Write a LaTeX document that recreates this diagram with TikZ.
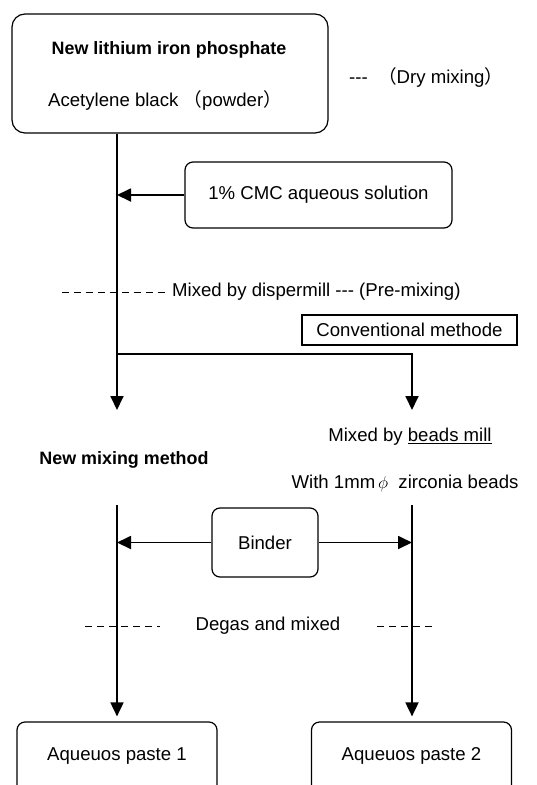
\documentclass[tikz,border=0pt]{standalone}
\usepackage{fontspec}
\setmainfont{Liberation Sans}
\newfontfamily\cjk{Noto Sans CJK JP}
\usetikzlibrary{arrows.meta,positioning}
\newcommand{\lp}{{\cjk （}}
\newcommand{\rp}{{\cjk ）}}
\newcommand{\tdash}{{-}{-}{-}}
\begin{document}
\begin{tikzpicture}[x=1pt,y=-1pt,>={Triangle[length=14pt,width=13pt]},
		flow/.style={line width=1.8pt},
		rbox/.style={draw,line width=1.2pt,rounded corners=8pt,inner sep=0pt},
		sbox/.style={draw,line width=1.8pt,inner sep=0pt},
		dsh/.style={line width=0.9pt,dash pattern=on 7pt off 5pt},
		txt/.style={font=\fontsize{18.6}{22}\selectfont,inner sep=0pt},
		btxt/.style={font=\fontsize{17.9}{22}\selectfont\bfseries,inner sep=0pt}]
	\useasboundingbox (0,0) rectangle (537,785);
	\clip (0,0) rectangle (537,785);
	% raw materials
	\node[rbox,rounded corners=13pt,minimum width=316pt,minimum height=119pt] (raw) at (170,73.5) {};
	\node[btxt] (lfp) at (169,50) {New lithium iron phosphate};
	\node[txt] (ab) at (165,100) {Acetylene black \lp powder\rp};
	\node[txt,anchor=west] (dry) at (349,77) {\tdash\ \ \lp Dry mixing\rp};
	\node[rbox,minimum width=267pt,minimum height=66pt] (cmc) at (318.5,195) {};
	\node[txt] (cmct) at (cmc) {1\% CMC aqueous solution};
	\coordinate (split) at (117,354);
	\coordinate (newend) at (117,410);
	\coordinate (convend) at (412,410);
	\draw[flow,->] (raw.south -| split) -- (newend);
	\draw[flow,->] (cmc.west) -- (cmc.west -| split);
	% pre-mixing
	\node[txt,anchor=west] (disp) at (172,292) {Mixed by dispermill \tdash{} (Pre-mixing)};
	\coordinate (dispa) at (62,292);
	\draw[dsh] (dispa) -- ([xshift=-6pt]disp.west);
	\node[sbox,minimum width=215pt,minimum height=30pt] (conv) at (409.5,330) {};
	\node[txt] (convt) at (conv) {Conventional methode};
	\draw[flow,->] (split) -| (convend);
	% two routes
	\node[txt] (beads) at (410,437) {Mixed by \underline{beads mill}};
	\node[btxt] (newm) at (124,460) {New mixing method};
	\node[txt] (zirc) at (405,483) {With 1mm$\,\phi$\ \ zirconia beads};
	\node[rbox,minimum width=106pt,minimum height=69pt] (bind) at (265,542.5) {};
	\node[txt] (bindt) at (bind) {Binder};
	\node[rbox,minimum width=200pt,minimum height=80pt] (p1) at (117,762) {};
	\node[rbox,minimum width=200pt,minimum height=80pt] (p2) at (411.5,762) {};
	\node[txt] (p1t) at (117,756) {Aqueuos paste 1};
	\node[txt] (p2t) at (411.5,756) {Aqueuos paste 2};
	\coordinate (ltop) at (117,505);
	\coordinate (rtop) at (412,505);
	\draw[flow,->,shorten >=5pt] (ltop) -- (p1.north -| ltop);
	\draw[flow,->,shorten >=5pt] (rtop) -- (p2.north -| rtop);
	\draw[flow,->] (bind.west) -- (bind.west -| ltop);
	\draw[flow,->] (bind.east) -- (bind.east -| rtop);
	% degas
	\node[txt] (degas) at (268,626) {Degas and mixed};
	\coordinate (dga) at (85,626);
	\coordinate (dgb) at (160,626);
	\coordinate (dgc) at (377,626);
	\coordinate (dgd) at (433,626);
	\draw[dsh] (dga) -- (dgb);
	\draw[dsh] (dgc) -- (dgd);
\end{tikzpicture}
\end{document}
